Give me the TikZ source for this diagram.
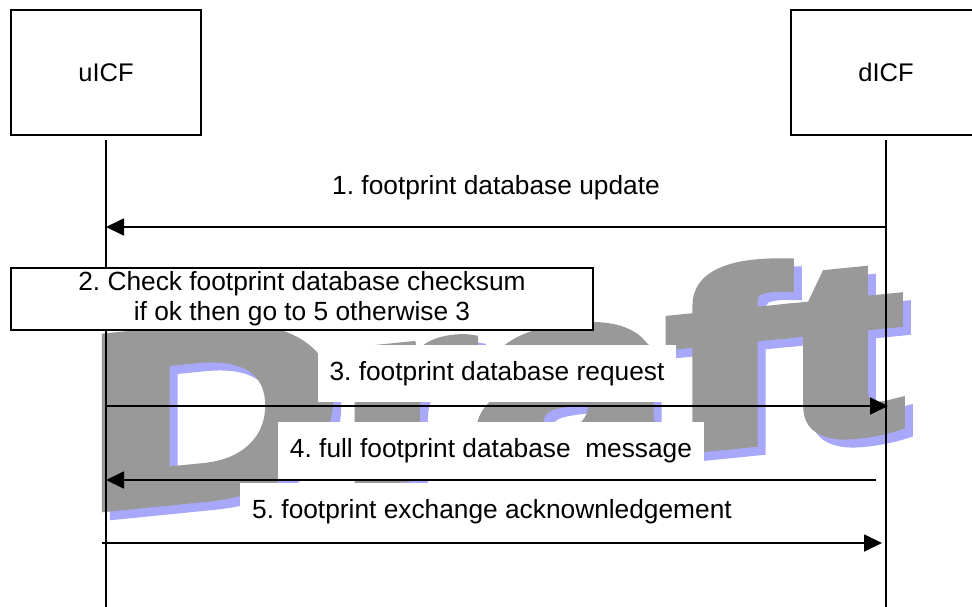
\documentclass[tikz,border=0pt]{standalone}
\usepackage{fontspec}
\setmainfont{Liberation Sans}
\newfontfamily\draftfont[FakeBold=5]{Liberation Sans Bold}
\usetikzlibrary{arrows.meta,positioning}
\definecolor{draftgray}{RGB}{153,153,153}
\definecolor{draftblue}{RGB}{168,168,250}
\frenchspacing

\begin{document}
\begin{tikzpicture}[x=1pt,y=-1pt,
  ent/.style={
   draw,
   line width=1.6pt,
   minimum width=190pt,
   minimum height=125pt,
   font=\fontsize{25.5}{30}\selectfont
  },
  life/.style={line width=1.3pt},
  msg/.style={line width=1.8pt,-{Triangle[length=18pt,width=17pt]}},
  lbl/.style={
   fill=white,
   inner xsep=12pt,
   minimum height=57pt,
   font=\fontsize{26.3}{30}\selectfont
  },
  draftmark/.style={
   anchor=base,
   yslant=0.1,
   xscale=1.44,
   inner sep=0pt,
   font=\draftfont\fontsize{242}{250}\selectfont
  }]
  \clip (0,0) rectangle (972,607);

  % watermark
  \node[draftmark,text=draftblue] (shadow) at (502,475) {Draft};
  \node[draftmark,text=draftgray] (draft) at (494,467) {Draft};

  \node[ent] (uICF) at (106,72.5) {uICF};
  \node[ent] (dICF) at (886,72.5) {dICF};

  \coordinate (uend) at (uICF |- 0,607);
  \coordinate (dend) at (dICF |- 0,607);
  \draw[life] ([yshift=-4pt]uICF.south) -- (uend);
  \draw[life] ([yshift=-4pt]dICF.south) -- (dend);

  \coordinate (u1) at (uICF |- 0,227);
  \coordinate (d1) at (dICF |- 0,227);
  \draw[msg] (d1) -- node[lbl,midway,above=10pt] (m1) {1. footprint database update} (u1);

  \node[draw,line width=1.6pt,fill=white,minimum width=582pt,minimum height=62pt,
    align=center,font=\fontsize{26.3}{30}\selectfont] (check) at (302,299)
    {2. Check footprint database checksum\\if ok then go to 5 otherwise 3};

  \coordinate (u3) at (uICF |- 0,406);
  \coordinate (d3) at ([xshift=2pt]dICF |- 0,406);
  \draw[msg] (u3) -- node[lbl,midway,above=3pt] (m3) {3. footprint database request} (d3);

  \coordinate (u4) at (uICF |- 0,480);
  \coordinate (d4) at ([xshift=-10pt]dICF |- 0,480);
  \draw[msg] (d4) -- node[lbl,midway,above=0pt] (m4) {4. full footprint database\ \ message} (u4);

  \coordinate (u5) at ([xshift=-4pt]uICF |- 0,543);
  \coordinate (d5) at ([xshift=-4pt]dICF |- 0,543);
  \draw[msg] (u5) -- node[lbl,midway,above=2pt] (m5) {5. footprint exchange acknownledgement} (d5);
\end{tikzpicture}
\end{document}
